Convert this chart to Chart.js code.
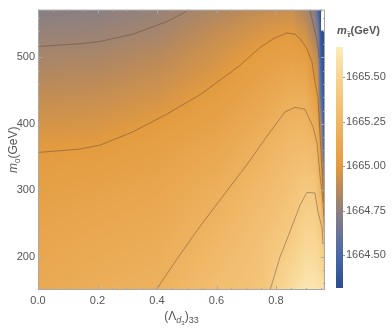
<!DOCTYPE html>
<html>
<head>
<meta charset="utf-8">
<script src="https://cdn.jsdelivr.net/npm/chart.js@4.4.1/dist/chart.umd.min.js"></script>
<style>
  html, body { margin: 0; padding: 0; background: #fff; }
  #wrap { width: 392px; height: 328px; position: relative; }
</style>
</head>
<body>
<div id="wrap"><canvas id="chart"></canvas></div>
<script>
// ---- data ----
// sample grid for the stau mass (GeV); rows follow gridY, columns follow gridX
const gridX = [0, 0.2, 0.4, 0.6, 0.75, 0.85, 0.9, 0.93, 0.94, 0.95, 0.96, 0.965];
const gridY = [150, 230, 300, 370, 440, 500, 540, 572];
const mStau = [
  [1665.13, 1665.17, 1665.20, 1665.31, 1665.36, 1665.55, 1665.62, 1665.62, 1665.60, 1665.60, 1665.58, 1665.55],
  [1665.09, 1665.12, 1665.15, 1665.24, 1665.33, 1665.41, 1665.50, 1665.50, 1665.47, 1665.43, 1665.35, 1665.30],
  [1665.05, 1665.07, 1665.10, 1665.18, 1665.27, 1665.34, 1665.40, 1665.39, 1665.33, 1665.24, 1664.95, 1664.70],
  [1664.99, 1665.00, 1665.04, 1665.10, 1665.20, 1665.27, 1665.28, 1665.24, 1665.19, 1665.00, 1664.50, 1664.40],
  [1664.90, 1664.91, 1664.95, 1665.02, 1665.10, 1665.17, 1665.17, 1665.06, 1665.00, 1664.62, 1664.38, 1664.32],
  [1664.82, 1664.83, 1664.87, 1664.95, 1665.03, 1665.06, 1665.04, 1664.92, 1664.88, 1664.45, 1664.32, 1664.30],
  [1664.77, 1664.78, 1664.81, 1664.90, 1664.96, 1664.99, 1664.93, 1664.80, 1664.72, 1664.38, 1664.30, 1664.30],
  [1664.73, 1664.74, 1664.775, 1664.84, 1664.90, 1664.92, 1664.83, 1664.72, 1664.55, 1664.30, null, null]
];

// contour lines (x, m0)
const contourA1 = [[0, 516.6], [0.141, 520.5], [0.208, 524], [0.319, 535], [0.434, 554], [0.511, 572]];
const contourA2 = [[0.914, 572], [0.938, 525], [0.945, 500]];
const contourB = [[0, 357], [0.141, 362], [0.208, 368], [0.319, 388], [0.434, 415], [0.545, 444], [0.679, 488],
  [0.746, 515], [0.79, 528], [0.837, 537], [0.864, 535], [0.881, 528], [0.904, 513], [0.921, 493],
  [0.931, 463], [0.941, 440], [0.948, 385], [0.955, 326], [0.961, 282]];
const contourC = [[0.397, 150], [0.477, 203], [0.545, 246], [0.706, 341], [0.78, 388], [0.83, 418], [0.864, 425],
  [0.897, 422], [0.924, 396], [0.938, 371], [0.948, 322], [0.958, 282], [0.964, 230]];
const contourD = [[0.78, 150], [0.813, 199], [0.847, 238], [0.881, 278], [0.904, 297], [0.931, 296],
  [0.941, 268], [0.955, 243], [0.958, 219]];

const xTicks = [0, 0.2, 0.4, 0.6, 0.8];
const yTicks = [200, 300, 400, 500];

// colour bar
const cbTicks = [1664.5, 1664.75, 1665.0, 1665.25, 1665.5];
const cbVals = [1664.315, 1664.5, 1664.625, 1664.75, 1664.875, 1665.0, 1665.25, 1665.5, 1665.669];
const cbCols = ['#2c4e8e', '#4a69a7', '#6b7497', '#8e8080', '#bb8a5a', '#e39b3f', '#f0b766', '#f8d592', '#fdecbc'];

const FONT = '"Liberation Sans", Arial, sans-serif';
const TXT = '#555555';

// ---- helpers ----
const cbRgb = cbCols.map(h => [parseInt(h.slice(1, 3), 16), parseInt(h.slice(3, 5), 16), parseInt(h.slice(5, 7), 16)]);
function colorOf(v) {
  if (v <= cbVals[0]) return cbRgb[0];
  for (let k = 0; k < cbVals.length - 1; k++) {
    if (v <= cbVals[k + 1]) {
      const t = (v - cbVals[k]) / (cbVals[k + 1] - cbVals[k]);
      const a = cbRgb[k], b = cbRgb[k + 1];
      return [a[0] + t * (b[0] - a[0]), a[1] + t * (b[1] - a[1]), a[2] + t * (b[2] - a[2])];
    }
  }
  return cbRgb[cbRgb.length - 1];
}
function cellIndex(arr, v) {
  for (let k = 0; k < arr.length - 1; k++) if (v <= arr[k + 1]) return k;
  return arr.length - 2;
}
function fieldAt(x, y) {
  const i = cellIndex(gridX, x), j = cellIndex(gridY, y);
  const v00 = mStau[j][i], v10 = mStau[j][i + 1], v01 = mStau[j + 1][i], v11 = mStau[j + 1][i + 1];
  if (v00 == null || v10 == null || v01 == null || v11 == null) return null;
  const tx = Math.min(1, Math.max(0, (x - gridX[i]) / (gridX[i + 1] - gridX[i])));
  const ty = Math.min(1, Math.max(0, (y - gridY[j]) / (gridY[j + 1] - gridY[j])));
  return (v00 * (1 - tx) + v10 * tx) * (1 - ty) + (v01 * (1 - tx) + v11 * tx) * ty;
}
const toPts = arr => arr.map(p => ({ x: p[0], y: p[1] }));

// ---- density layer (under the contour lines) ----
const densityPlugin = {
  id: 'density',
  beforeDatasetsDraw(chart) {
    const { ctx, chartArea: a, scales: { x, y } } = chart;
    const w = Math.round(a.right - a.left), h = Math.round(a.bottom - a.top);
    const off = document.createElement('canvas');
    off.width = w; off.height = h;
    const octx = off.getContext('2d');
    const img = octx.createImageData(w, h);
    for (let py = 0; py < h; py++) {
      const yv = y.getValueForPixel(a.top + py + 0.5);
      for (let px = 0; px < w; px++) {
        const xv = x.getValueForPixel(a.left + px + 0.5);
        const v = fieldAt(xv, yv);
        const o = (py * w + px) * 4;
        if (v == null) { img.data[o + 3] = 0; continue; }
        const c = colorOf(v);
        img.data[o] = c[0]; img.data[o + 1] = c[1]; img.data[o + 2] = c[2]; img.data[o + 3] = 255;
      }
    }
    octx.putImageData(img, 0, 0);
    ctx.drawImage(off, a.left, a.top);
  },
  afterDraw(chart) {
    const { ctx, chartArea: a, scales: { x, y } } = chart;
    ctx.save();
    // frame + inward ticks
    ctx.strokeStyle = '#a8a8a8';
    ctx.lineWidth = 1;
    ctx.strokeRect(a.left + 0.5, a.top + 0.5, a.right - a.left - 1, a.bottom - a.top - 1);
    ctx.beginPath();
    for (let v = 0; v <= x.max + 1e-9; v += 0.05) {
      const px = Math.round(x.getPixelForValue(v)) + 0.5;
      const len = Math.abs(v / 0.2 - Math.round(v / 0.2)) < 1e-6 ? 4 : 2;
      ctx.moveTo(px, a.bottom); ctx.lineTo(px, a.bottom - len);
      ctx.moveTo(px, a.top); ctx.lineTo(px, a.top + len);
    }
    for (let v = 160; v <= y.max; v += 20) {
      const py = Math.round(y.getPixelForValue(v)) + 0.5;
      const len = v % 100 === 0 ? 4 : 2;
      ctx.moveTo(a.left, py); ctx.lineTo(a.left + len, py);
      ctx.moveTo(a.right, py); ctx.lineTo(a.right - len, py);
    }
    ctx.stroke();

    // x title: (Λ_{d3})_{33}
    ctx.fillStyle = TXT;
    ctx.textBaseline = 'alphabetic';
    ctx.textAlign = 'left';
    const cx = (a.left + a.right) / 2, by = 320;
    const parts = [
      ['(Λ', '12px ' + FONT, 0],
      ['d', 'italic 9px ' + FONT, 3],
      ['3', '6px ' + FONT, 5],
      [')', '12px ' + FONT, 0],
      ['33', '9px ' + FONT, 3]
    ];
    let tw = 0;
    parts.forEach(p => { ctx.font = p[1]; tw += ctx.measureText(p[0]).width; });
    let tx = cx - tw / 2;
    parts.forEach(p => { ctx.font = p[1]; ctx.fillText(p[0], tx, by + p[2]); tx += ctx.measureText(p[0]).width; });

    // y title: m_0(GeV)
    ctx.save();
    ctx.translate(17, (a.top + a.bottom) / 2);
    ctx.rotate(-Math.PI / 2);
    const yparts = [
      ['m', 'italic 12px ' + FONT, 0],
      ['0', '8px ' + FONT, 3],
      ['(GeV)', '12px ' + FONT, 0]
    ];
    tw = 0;
    yparts.forEach(p => { ctx.font = p[1]; tw += ctx.measureText(p[0]).width; });
    tx = -tw / 2;
    yparts.forEach(p => { ctx.font = p[1]; ctx.fillText(p[0], tx, p[2]); tx += ctx.measureText(p[0]).width; });
    ctx.restore();

    // colour bar
    const barL = 336, barW = 7, barT = 47, barB = 288;
    const vTop = cbVals[cbVals.length - 1], vBot = cbVals[0];
    const vpix = v => barB - (v - vBot) / (vTop - vBot) * (barB - barT);
    for (let py = barT; py < barB; py++) {
      const v = vBot + (barB - py - 0.5) / (barB - barT) * (vTop - vBot);
      const c = colorOf(v);
      ctx.fillStyle = `rgb(${c[0] | 0},${c[1] | 0},${c[2] | 0})`;
      ctx.fillRect(barL, py, barW, 1);
    }
    ctx.strokeStyle = '#999';
    ctx.beginPath();
    cbTicks.forEach(v => {
      const py = Math.round(vpix(v)) + 0.5;
      ctx.moveTo(barL + barW, py); ctx.lineTo(barL + barW + 2, py);
    });
    ctx.stroke();
    ctx.fillStyle = TXT;
    ctx.font = '11px ' + FONT;
    ctx.textBaseline = 'middle';
    cbTicks.forEach(v => ctx.fillText(v.toFixed(2), barL + barW + 3, vpix(v)));

    // colour bar title: m_τ̃(GeV)
    ctx.textBaseline = 'alphabetic';
    const cparts = [
      ['m', 'italic bold 11px ' + FONT, 0],
      ['\u03C4\u0303', 'italic bold 8px ' + FONT, 3],
      ['(GeV)', 'bold 11px ' + FONT, 0]
    ];
    tx = 337;
    cparts.forEach(p => { ctx.font = p[1]; ctx.fillText(p[0], tx, 34 + p[2]); tx += ctx.measureText(p[0]).width + (p[0] === 'm' ? 0.5 : 0); });
    ctx.restore();
  }
};

const lineStyle = { showLine: true, pointRadius: 0, borderColor: 'rgba(85,65,55,0.55)', borderWidth: 0.8, fill: false, tension: 0 };

new Chart(document.getElementById('chart'), {
  type: 'scatter',
  data: {
    datasets: [
      Object.assign({ label: 'A1', data: toPts(contourA1) }, lineStyle),
      Object.assign({ label: 'A2', data: toPts(contourA2) }, lineStyle),
      Object.assign({ label: 'B', data: toPts(contourB) }, lineStyle),
      Object.assign({ label: 'C', data: toPts(contourC) }, lineStyle),
      Object.assign({ label: 'D', data: toPts(contourD) }, lineStyle)
    ]
  },
  options: {
    responsive: true,
    maintainAspectRatio: false,
    animation: false,
    layout: { padding: { left: 0, top: 3, right: 67, bottom: 0 } },
    plugins: { legend: { display: false }, tooltip: { enabled: false } },
    scales: {
      x: {
        type: 'linear', min: 0, max: 0.9647,
        afterBuildTicks: s => { s.ticks = xTicks.map(v => ({ value: v })); },
        afterFit: s => { s.height = 38; },
        grid: { display: false, drawTicks: false },
        border: { display: false },
        ticks: { padding: 4, color: TXT, font: { family: FONT, size: 11 }, maxRotation: 0, callback: v => v.toFixed(1) }
      },
      y: {
        type: 'linear', min: 150, max: 572,
        afterBuildTicks: s => { s.ticks = yTicks.map(v => ({ value: v })); },
        afterFit: s => { s.width = 38; },
        grid: { display: false, drawTicks: false },
        border: { display: false },
        ticks: { padding: 3, color: TXT, font: { family: FONT, size: 11 } }
      }
    }
  },
  plugins: [densityPlugin]
});
</script>
</body>
</html>
